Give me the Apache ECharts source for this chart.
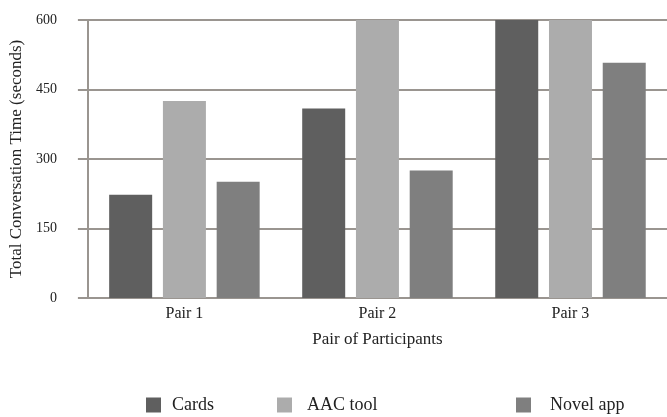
<!DOCTYPE html>
<html>
<head>
<meta charset="utf-8">
<script src="https://cdn.jsdelivr.net/npm/echarts@6/dist/echarts.min.js"></script>
<style>
  html, body { margin: 0; padding: 0; background: #fff; }
  #chart { width: 667px; height: 417px; }
</style>
</head>
<body>
<div id="chart"></div>
<script>
const pairs = ['Pair 1', 'Pair 2', 'Pair 3']
const cards = [223, 409, 600]
const aacTool = [425, 600, 600]
const novelApp = [251, 275, 508]
const yTicks = [0, 150, 300, 450, 600]

const serif = 'Liberation Serif'
const lineColor = '#9a9590'

const myChart = echarts.init(document.getElementById('chart'))

// one legend per item, the gaps between them are uneven in the original
function legendAt (name, left, textGap) {
  return {
    data: [name],
    left: left,
    top: 391,
    icon: 'rect',
    itemWidth: 15,
    itemHeight: 15,
    textStyle: {
      fontFamily: serif,
      fontSize: 18,
      color: '#222',
      padding: [0, 0, 0, textGap]
    }
  }
}

myChart.setOption({
  animation: false,
  legend: [
    legendAt('Cards', 141, 6),
    legendAt('AAC tool', 272, 10),
    legendAt('Novel app', 511, 14)
  ],
  grid: {
    left: 86,
    right: 0,
    top: 20,
    bottom: 119
  },
  xAxis: {
    type: 'category',
    data: pairs,
    name: 'Pair of Participants',
    nameLocation: 'middle',
    nameGap: 33,
    nameTextStyle: { fontFamily: serif, fontSize: 17, color: '#222', verticalAlign: 'top' },
    axisLine: { lineStyle: { color: lineColor, width: 2 } },
    axisTick: { show: false },
    axisLabel: { fontFamily: serif, fontSize: 16, color: '#222', margin: 8 }
  },
  yAxis: {
    type: 'value',
    min: yTicks[0],
    max: yTicks[yTicks.length - 1],
    interval: 150,
    name: 'Total Conversation Time (seconds)',
    nameLocation: 'middle',
    nameRotate: 90,
    nameGap: 57,
    nameTextStyle: { fontFamily: serif, fontSize: 17, color: '#222' },
    axisLine: { show: true, lineStyle: { color: lineColor, width: 2 } },
    axisTick: { show: true, length: 10, lineStyle: { color: lineColor, width: 2 } },
    axisLabel: { fontFamily: serif, fontSize: 14, color: '#222', margin: 31 },
    splitLine: { lineStyle: { color: lineColor, width: 2 } }
  },
  series: [
    {
      name: 'Cards',
      type: 'bar',
      data: cards,
      barWidth: 43,
      barGap: '25%',
      itemStyle: { color: '#5f5f5f' }
    },
    {
      name: 'AAC tool',
      type: 'bar',
      data: aacTool,
      barWidth: 43,
      barGap: '25%',
      itemStyle: { color: '#acacac' }
    },
    {
      name: 'Novel app',
      type: 'bar',
      data: novelApp,
      barWidth: 43,
      barGap: '25%',
      itemStyle: { color: '#7f7f7f' }
    }
  ]
})
</script>
</body>
</html>
